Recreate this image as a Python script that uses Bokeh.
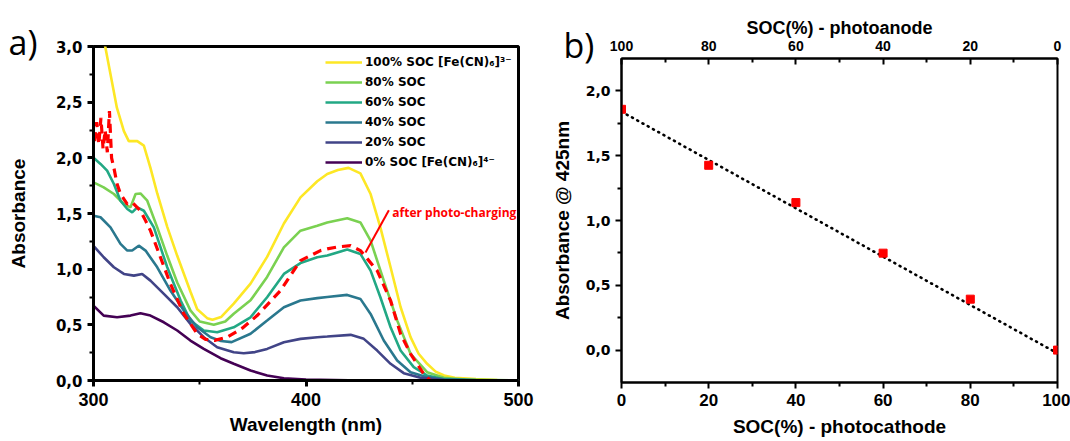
from bokeh.plotting import figure
from bokeh.models import (Range1d, LinearAxis, Legend, LegendItem, Label,
                          FixedTicker, CustomJSTickFormatter)
from bokeh.layouts import row
from bokeh.embed import file_html
from bokeh.resources import INLINE

# ---------------- panel a) : UV-vis spectra ----------------
wl_100 = [302, 304.5, 305.6, 308, 311, 314.3, 316.6, 320.6, 323.7, 326.8, 330, 334.7, 339.4, 345.6, 348.8,
          353.5, 356, 360, 366, 373.9, 381.7, 389.6, 397.4, 405.3, 410, 415, 420, 425.6, 430.4, 435,
          439.8, 444.5, 449.2, 453, 457, 461, 465, 470, 480, 490, 500]
abs_100 = [3.4, 3.1, 2.99, 2.75, 2.45, 2.24, 2.15, 2.15, 2.11, 1.91, 1.68, 1.38, 1.12, 0.80, 0.64,
           0.56, 0.545, 0.57, 0.69, 0.87, 1.11, 1.41, 1.645, 1.79, 1.855, 1.89, 1.91, 1.86, 1.675, 1.375,
           1.017, 0.66, 0.39, 0.24, 0.15, 0.08, 0.045, 0.025, 0.012, 0.005, 0.0]

wl_80 = [300, 304.8, 309.6, 314.3, 317.4, 319.8, 322.1, 325.3, 330, 334.7, 339.4, 345.6, 350, 356.6, 362,
         366, 373.9, 381.7, 389.6, 397.4, 405.3, 410, 419.4, 425.6, 430.4, 436.6, 442.9, 449.2, 457, 465,
         475, 500]
abs_80 = [1.78, 1.735, 1.675, 1.585, 1.555, 1.675, 1.68, 1.615, 1.375, 1.12, 0.88, 0.63, 0.53, 0.50, 0.53,
          0.60, 0.72, 0.93, 1.196, 1.346, 1.39, 1.42, 1.457, 1.42, 1.256, 0.897, 0.54, 0.24, 0.075, 0.025,
          0.008, 0.0]

wl_60 = [300, 303.3, 306.4, 309.6, 312.7, 315.9, 318.2, 320.6, 323.7, 328.4, 334.7, 341, 345.6, 351.9, 358.2,
         366, 373.9, 381.7, 389.6, 397.4, 405.3, 410, 419.4, 425.6, 430.4, 435, 439.8, 444.5, 450.7, 457,
         465, 480, 500]
abs_60 = [2.0, 1.945, 1.885, 1.765, 1.615, 1.54, 1.51, 1.555, 1.525, 1.375, 1.017, 0.718, 0.538, 0.449, 0.433,
          0.478, 0.568, 0.748, 0.957, 1.055, 1.107, 1.122, 1.176, 1.137, 0.987, 0.748, 0.478, 0.269, 0.12, 0.045,
          0.012, 0.003, 0.0]

wl_40 = [300, 303.3, 308, 312.7, 315.9, 318.2, 321.3, 324.5, 330, 336.2, 342.5, 348.8, 355.1, 360, 365,
         373.9, 381.7, 389.6, 397.4, 405.3, 410, 419.4, 425.6, 430.4, 436.6, 442.9, 449.2, 457, 465, 480, 500]
abs_40 = [1.48, 1.466, 1.376, 1.227, 1.167, 1.167, 1.211, 1.167, 1.017, 0.808, 0.628, 0.478, 0.389, 0.355, 0.345,
          0.42, 0.538, 0.658, 0.718, 0.74, 0.75, 0.769, 0.733, 0.598, 0.359, 0.18, 0.075, 0.03, 0.01, 0.002, 0.0]

wl_20 = [300, 304.8, 309.6, 314.3, 319, 322.9, 326.8, 333.1, 339.4, 345.6, 351.9, 358.2, 366, 370.7, 376,
         381.7, 389.6, 397.4, 405.3, 410, 421, 427.2, 433.5, 439.8, 446, 453.9, 465, 500]
abs_20 = [1.21, 1.107, 1.017, 0.957, 0.942, 0.957, 0.897, 0.778, 0.658, 0.509, 0.389, 0.299, 0.254, 0.245, 0.255,
          0.284, 0.344, 0.374, 0.389, 0.395, 0.41, 0.374, 0.269, 0.15, 0.066, 0.024, 0.005, 0.0]

wl_0 = [300, 304.8, 311.1, 317.4, 322.1, 326.8, 333.1, 339.4, 345.6, 351.9, 359.8, 366, 373.9, 381.7, 389.6,
        400, 420, 500]
abs_0 = [0.673, 0.583, 0.568, 0.583, 0.604, 0.583, 0.523, 0.449, 0.359, 0.284, 0.2, 0.15, 0.09, 0.045, 0.02,
         0.008, 0.002, 0.0]

wl_pc = [300.5, 301.5, 302.5, 303.5, 304.5, 305.5, 306.5, 307.5, 308.5, 309.6, 311.1, 312.7, 315.9, 318.2, 322.1,
         324.5, 326.8, 331.5, 336.2, 342.5, 348.8, 352.7, 357, 362.9, 370, 377, 388, 397.4, 406.8, 410,
         415, 421, 425.6, 429, 433.5, 439.8, 444.5, 449.2, 455.4, 459]
abs_pc = [2.15, 2.32, 2.12, 2.36, 2.08, 2.25, 2.05, 2.42, 2.0, 1.91, 1.765, 1.675, 1.585, 1.6, 1.525,
          1.436, 1.346, 1.107, 0.868, 0.598, 0.419, 0.37, 0.36, 0.389, 0.47, 0.583, 0.808, 1.077, 1.167, 1.182,
          1.2, 1.211, 1.167, 1.09, 0.987, 0.718, 0.419, 0.24, 0.06, -0.01]

series_labels = ["100% SOC [Fe(CN)\u2086]\u00b3\u207b", "80% SOC", "60% SOC", "40% SOC", "20% SOC",
                 "0% SOC [Fe(CN)\u2086]\u2074\u207b"]
series_colors = ["#fde725", "#7ad151", "#22a884", "#2a788e", "#414487", "#440154"]
pc_label = "after photo-charging"

# ---------------- panel b) : absorbance at 425 nm ----------------
soc_cathode = [0, 20, 40, 60, 80, 100]
abs_425 = [1.858, 1.426, 1.138, 0.748, 0.393, 0.0]
fit_soc = [0, 100]
fit_abs = [1.84, -0.025]

comma_fmt = CustomJSTickFormatter(code="return tick.toFixed(1).replace('.', ',');")

# ===================== figure a =====================
pa = figure(width=535, height=441, x_range=Range1d(300, 500), y_range=Range1d(0, 3),
            output_backend="svg", toolbar_location=None, frame_align=False,
            min_border_left=93, min_border_right=17, min_border_top=46, min_border_bottom=61)
pa.grid.visible = False
pa.outline_line_color = "black"
pa.outline_line_width = 3
pa.outline_line_alpha = 1.0

# panel tag "a)" as the plot title, pushed left of / down beside the frame
pa.title.text = "a)"
pa.title.text_color = "black"
pa.title.text_font = "Open Sans"
pa.title.text_font_style = "normal"
pa.title.text_font_size = "34px"
pa.title.align = "left"
pa.title.vertical_align = "bottom"
pa.title.offset = -85
pa.title.standoff = -36

xa = pa.xaxis[0]
xa.ticker = FixedTicker(ticks=[300, 400, 500], minor_ticks=[350, 450])
xa.axis_label = "Wavelength (nm)"
ya = pa.yaxis[0]
ya.ticker = FixedTicker(ticks=[0, 0.5, 1.0, 1.5, 2.0, 2.5, 3.0],
                        minor_ticks=[0.25, 0.75, 1.25, 1.75, 2.25, 2.75])
ya.formatter = comma_fmt
ya.axis_label = "Absorbance"
for ax in (xa, ya):
    ax.axis_line_width = 3
    ax.axis_line_color = "black"
    ax.major_tick_line_color = "black"
    ax.minor_tick_line_color = "black"
    ax.major_tick_line_width = 3
    ax.minor_tick_line_width = 2
    ax.major_tick_in = 0
    ax.major_tick_out = 6
    ax.minor_tick_in = 0
    ax.minor_tick_out = 4
    ax.major_label_text_color = "black"
    ax.major_label_text_font_style = "bold"
    ax.axis_label_text_color = "black"
    ax.axis_label_text_font = "Liberation Sans"
    ax.axis_label_text_font_style = "bold"
    ax.axis_label_text_font_size = "19px"
xa.major_label_text_font = "Liberation Sans"
xa.major_label_text_font_size = "18px"
xa.major_label_standoff = 6
xa.axis_label_standoff = 5
ya.major_label_text_font = "DejaVu Sans"
ya.major_label_text_font_size = "15px"
ya.major_label_standoff = 5
ya.axis_label_standoff = 24

wls = [wl_100, wl_80, wl_60, wl_40, wl_20, wl_0]
abss = [abs_100, abs_80, abs_60, abs_40, abs_20, abs_0]
items = []
for w, a, c, lab in zip(wls, abss, series_colors, series_labels):
    r = pa.line(w, a, line_color=c, line_width=2.6)
    items.append(LegendItem(label=lab, renderers=[r]))

pa.line(wl_pc, abs_pc, line_color="#ff0000", line_width=3.2, line_dash="9 6")
pa.line([439.0, 428.0], [1.53, 1.15], line_color="#ff0000", line_width=2)
pa.add_layout(Label(x=440.6, y=1.51, text=pc_label, text_color="#ff0000",
                    text_font="Open Sans", text_font_style="bold", text_font_size="12px",
                    text_baseline="middle"))

leg = Legend(items=items, location=(232, 208), border_line_alpha=0, background_fill_alpha=0,
             padding=0, margin=0, spacing=0, glyph_width=37, glyph_height=20, label_height=20,
             label_standoff=3, label_text_font="DejaVu Sans", label_text_font_style="bold",
             label_text_font_size="12px", label_text_color="black")
pa.add_layout(leg)

# ===================== figure b =====================
pb = figure(width=535, height=441, x_range=Range1d(0, 100), y_range=Range1d(-0.25, 2.25),
            output_backend="svg", toolbar_location=None, frame_align=False,
            min_border_left=86, min_border_right=13, min_border_top=58, min_border_bottom=59)
pb.grid.visible = False
pb.outline_line_color = "black"
pb.outline_line_width = 2
pb.outline_line_alpha = 1.0
pb.extra_x_ranges = {"anode": Range1d(100, 0)}

# panel tag "b)" as the plot title
pb.title.text = "b)"
pb.title.text_color = "black"
pb.title.text_font = "Open Sans"
pb.title.text_font_style = "normal"
pb.title.text_font_size = "34px"
pb.title.align = "left"
pb.title.vertical_align = "bottom"
pb.title.offset = -58
pb.title.standoff = -106

xb = pb.xaxis[0]
xb.ticker = FixedTicker(ticks=[0, 20, 40, 60, 80, 100], minor_ticks=[10, 30, 50, 70, 90])
xb.axis_label = "SOC(%) - photocathode"
yb = pb.yaxis[0]
yb.ticker = FixedTicker(ticks=[0, 0.5, 1.0, 1.5, 2.0], minor_ticks=[0.25, 0.75, 1.25, 1.75])
yb.formatter = comma_fmt
yb.axis_label = "Absorbance @ 425nm"
top_b = LinearAxis(x_range_name="anode",
                   ticker=FixedTicker(ticks=[0, 20, 40, 60, 80, 100], minor_ticks=[10, 30, 50, 70, 90]),
                   axis_label="SOC(%) - photoanode")
pb.add_layout(top_b, "above")
for ax in (xb, yb, top_b):
    ax.axis_line_width = 2
    ax.axis_line_color = "black"
    ax.major_tick_line_color = "black"
    ax.minor_tick_line_color = "black"
    ax.major_tick_line_width = 2
    ax.minor_tick_line_width = 2
    ax.major_tick_in = 0
    ax.major_tick_out = 6
    ax.minor_tick_in = 0
    ax.minor_tick_out = 4
    ax.major_label_text_color = "black"
    ax.major_label_text_font_style = "bold"
    ax.axis_label_text_color = "black"
    ax.axis_label_text_font = "Liberation Sans"
    ax.axis_label_text_font_style = "bold"
    ax.axis_label_text_font_size = "19px"
xb.major_label_text_font = "Liberation Sans"
xb.major_label_text_font_size = "17px"
xb.major_label_standoff = 5
xb.axis_label_standoff = 7
yb.major_label_text_font = "DejaVu Sans"
yb.major_label_text_font_size = "14px"
yb.major_label_standoff = 5
yb.axis_label_standoff = 10
top_b.major_tick_in = 6
top_b.major_tick_out = 0
top_b.minor_tick_in = 4
top_b.minor_tick_out = 0
top_b.major_label_text_font = "Liberation Sans"
top_b.major_label_text_font_size = "14px"
top_b.major_label_standoff = 8
top_b.axis_label_standoff = 0
top_b.axis_label_text_font_size = "18px"

pb.line(fit_soc, fit_abs, line_color="black", line_width=2.6, line_dash="1 5", line_cap="round")
pb.scatter(soc_cathode, abs_425, marker="square", size=8, color="#ff0000")

layout = row(pa, pb, spacing=0)
open("out.html", "w").write(file_html(layout, INLINE))
